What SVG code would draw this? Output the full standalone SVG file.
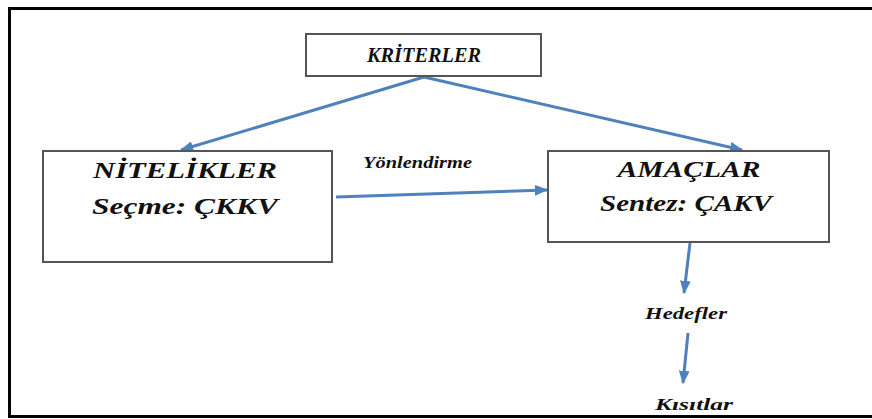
<svg xmlns="http://www.w3.org/2000/svg" width="872" height="419" viewBox="0 0 872 419">
  <style>
    .frame { fill: none; stroke: #000; stroke-width: 3; }
    .box { fill: #fff; stroke: #555; stroke-width: 2; }
    .lbl { font-family: "Liberation Serif", "Times New Roman", serif; font-weight: bold; font-style: italic; fill: #111; }
    .big { font-size: 24px; }
    .mid { font-size: 21px; }
    .small { font-size: 17px; }
    .link { fill: none; stroke: #4f81bd; stroke-width: 3; marker-end: url(#head); }
  </style>
  <defs>
    <marker id="head" viewBox="0 0 10 8" refX="9" refY="4" markerWidth="4.5" markerHeight="3.6" orient="auto">
      <path d="M0,0 L10,4 L0,8 z" fill="#4f81bd"/>
    </marker>
  </defs>

  <rect width="872" height="419" fill="#fff"/>
  <!-- outer frame, open on the right -->
  <path class="frame" d="M874,8.5 H9.5 V416.5 H874"/>

  <g id="connectors">
    <line class="link" x1="424" y1="77" x2="181" y2="150"/>
    <line class="link" x1="424" y1="77" x2="742" y2="150"/>
    <line class="link" x1="336" y1="197" x2="547" y2="190"/>
    <line class="link" x1="690" y1="243" x2="684" y2="293"/>
    <line class="link" x1="688" y1="333" x2="683" y2="383"/>
  </g>

  <g id="kriterler">
    <rect class="box" x="306" y="34" width="235" height="42"/>
    <text class="lbl mid" x="424" y="62" text-anchor="middle" textLength="114" lengthAdjust="spacingAndGlyphs">KRİTERLER</text>
  </g>

  <g id="nitelikler">
    <rect class="box" x="43" y="151" width="289" height="111"/>
    <text class="lbl big" x="185" y="178" text-anchor="middle" textLength="184" lengthAdjust="spacingAndGlyphs">NİTELİKLER</text>
    <text class="lbl big" x="185" y="214" text-anchor="middle" textLength="186" lengthAdjust="spacingAndGlyphs">Seçme: ÇKKV</text>
  </g>

  <g id="amaclar">
    <rect class="box" x="548" y="151" width="281" height="91"/>
    <text class="lbl big" x="689" y="177" text-anchor="middle" textLength="143" lengthAdjust="spacingAndGlyphs">AMAÇLAR</text>
    <text class="lbl big" x="686" y="211" text-anchor="middle" textLength="172" lengthAdjust="spacingAndGlyphs">Sentez: ÇAKV</text>
  </g>

  <g id="yonlendirme">
    <text class="lbl small" x="363" y="168" textLength="109" lengthAdjust="spacingAndGlyphs">Yönlendirme</text>
  </g>

  <g id="hedefler">
    <text class="lbl small" x="645" y="319" textLength="82" lengthAdjust="spacingAndGlyphs">Hedefler</text>
  </g>

  <g id="kisitlar">
    <text class="lbl small" x="655" y="410" textLength="78" lengthAdjust="spacingAndGlyphs">Kısıtlar</text>
  </g>
</svg>
